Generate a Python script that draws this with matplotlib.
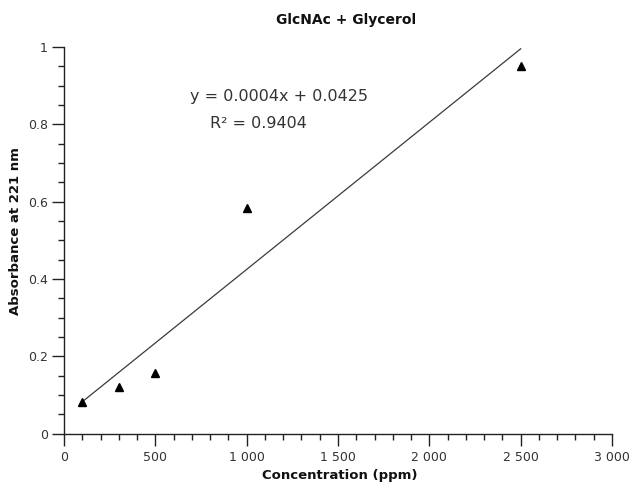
import numpy as np
import matplotlib
matplotlib.use("Agg")
import matplotlib.pyplot as plt
from matplotlib.ticker import MultipleLocator, FuncFormatter

# Data
concentration = [100, 300, 500, 1000, 2500]
absorbance = [0.083, 0.120, 0.158, 0.583, 0.952]
title = "GlcNAc + Glycerol"
xlabel = "Concentration (ppm)"
ylabel = "Absorbance at 221 nm"
equation = "y = 0.0004x + 0.0425"
r2_text = "R² = 0.9404"

fig = plt.figure(figsize=(6.29, 4.82), dpi=100)
ax = fig.add_axes([64/629, 1 - 433.7/482, (612-64)/629, (433.7-47)/482])

# Linear trendline
coef = np.polyfit(concentration, absorbance, 1)
xfit = np.array([min(concentration), max(concentration)])
ax.plot(xfit, np.polyval(coef, xfit), color="#3a3a3a", lw=0.9, zorder=2)

ax.plot(concentration, absorbance, linestyle="none", marker="^", ms=6,
        color="black", zorder=3, clip_on=False)

ax.set_xlim(0, 3000)
ax.set_ylim(0, 1)
ax.xaxis.set_major_locator(MultipleLocator(500))
ax.xaxis.set_minor_locator(MultipleLocator(100))
ax.yaxis.set_major_locator(MultipleLocator(0.2))
ax.yaxis.set_minor_locator(MultipleLocator(0.05))

def xfmt(v, pos):
    s = f"{int(round(v)):,}".replace(",", " ")
    return s

def yfmt(v, pos):
    if abs(v) < 1e-9:
        return "0"
    if abs(v - 1) < 1e-9:
        return "1"
    return f"{v:.1f}"

ax.xaxis.set_major_formatter(FuncFormatter(xfmt))
ax.yaxis.set_major_formatter(FuncFormatter(yfmt))

for s in ["top", "right"]:
    ax.spines[s].set_visible(False)
for s in ["left", "bottom"]:
    ax.spines[s].set_linewidth(1.0)
    ax.spines[s].set_color("#222222")

ax.tick_params(which="major", length=8.5, width=1.0, color="#222222",
               labelsize=9, labelcolor="#333333", direction="out")
ax.tick_params(which="minor", length=4.3, width=1.0, color="#222222",
               direction="out")
ax.tick_params(axis="x", pad=4)
ax.tick_params(axis="y", pad=3)

fig.text(346/629, 1 - 20/482, title, ha="center", va="center",
         fontsize=10, fontweight="bold", color="#111111")
fig.text(340/629, 1 - 475/482, xlabel, ha="center", va="center",
         fontsize=9.5, fontweight="bold", color="#111111")
fig.text(16/629, 1 - 231/482, ylabel, ha="center", va="center",
         rotation=90, fontsize=9.5, fontweight="bold", color="#111111")

fig.text(279/629, 1 - 97/482, equation, ha="center", va="center",
         fontsize=11.5, color="#333333")
fig.text(210/629, 1 - 123/482, r2_text, ha="left", va="center",
         fontsize=11.5, color="#333333")

fig.savefig("out.png", dpi=100, facecolor="white")
